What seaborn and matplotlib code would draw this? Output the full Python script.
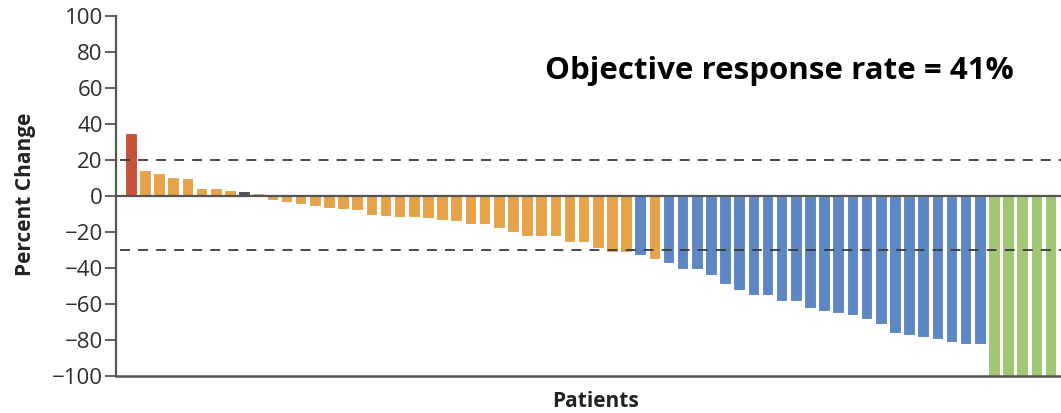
import matplotlib
matplotlib.use("Agg")
import matplotlib.pyplot as plt
import seaborn as sns
import pandas as pd

# Best percent change in tumour size, one bar per patient, sorted
patients = [f"P{i:02d}" for i in range(1, 67)]
percent_change = [
    35, 14.5, 12.5, 10.5, 10, 4.5, 4.5, 3.5, 2.5, 1.5,
    -2.5, -3.5, -4.5, -5.5, -6.5, -7, -8, -10.5, -11, -11.5,
    -11.5, -12.5, -13.5, -14, -15.5, -15.5, -18, -20, -22, -22,
    -22, -25.5, -25.5, -29, -31, -31, -33, -35, -37, -40.5,
    -40.5, -44, -49, -52.5, -55, -55, -58.5, -58.5, -62, -64,
    -65, -66, -68.5, -71, -76, -77.5, -78.5, -79.5, -81, -82,
    -82, -100, -100, -100, -100, -100,
]
response = (
    ["PD"] + ["SD"] * 7 + ["NE"] + ["SD"] * 27 + ["PR"] + ["SD"]
    + ["PR"] * 23 + ["CR"] * 5
)
response_colors = {
    "PD": "#C8513A",
    "SD": "#E5A248",
    "NE": "#505050",
    "PR": "#5C87C3",
    "CR": "#A0C774",
}
y_ticks = [100, 80, 60, 40, 20, 0, -20, -40, -60, -80, -100]
thresholds = [20, -30]
title_text = "Objective response rate = 41%"

df = pd.DataFrame({"patient": patients, "change": percent_change, "response": response})

sns.set_theme(style="white")
plt.rcParams["font.family"] = ["Open Sans", "DejaVu Sans"]

fig = plt.figure(figsize=(10.61, 4.13), dpi=100)
ax = fig.add_axes([0.1093, 0.0896, 0.8907, 0.8717])

sns.barplot(
    data=df, x="patient", y="change", hue="response", order=patients,
    palette=response_colors, dodge=False, width=0.82, legend=False,
    edgecolor="white", linewidth=0.8, saturation=1, ax=ax,
)

for t in thresholds:
    ax.axhline(t, xmin=0.004, color="#3a3a3a", lw=1.3, ls=(0, (5.5, 4.5)), zorder=3)
ax.axhline(0, color="#555555", lw=1.6, zorder=4)

ax.set_xlim(-1.05, 65.74)
ax.set_ylim(-100, 100)
ax.set_yticks(y_ticks)
ax.set_xticks([])
ax.tick_params(axis="y", left=True, length=8, width=1.2, color="#444444",
               pad=1.5, labelsize=16, labelcolor="#2e2e2e")

for side in ["top", "right"]:
    ax.spines[side].set_visible(False)
ax.spines["left"].set_color("#555555")
ax.spines["left"].set_linewidth(1.6)
ax.spines["bottom"].set_color("#555555")
ax.spines["bottom"].set_linewidth(1.8)

ax.set_ylabel("Percent Change", fontsize=15, fontweight="bold", color="#222222", va="center")
ax.yaxis.set_label_coords(-0.0958, 0.5056)
ax.set_xlabel("Patients", fontsize=15, fontweight="bold", color="#222222", va="center")
ax.xaxis.set_label_coords(0.507, -0.071)

ax.text(0.454, 0.825, title_text, transform=ax.transAxes, ha="left", va="baseline",
        fontsize=22.5, fontweight="bold", color="black")

fig.savefig("out.png", dpi=100)
